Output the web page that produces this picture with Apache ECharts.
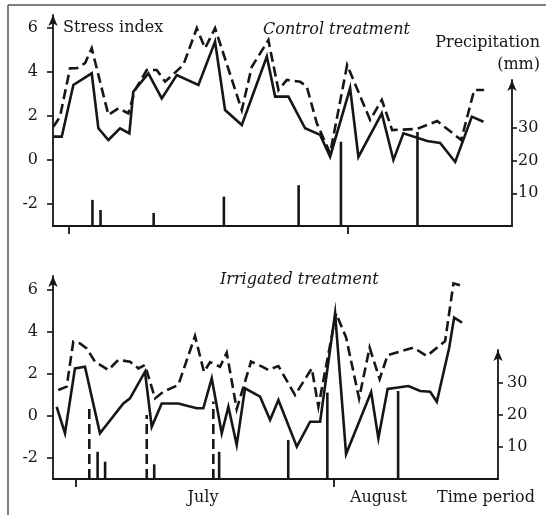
<!DOCTYPE html>
<html>
<head>
<meta charset="utf-8">
<script src="https://cdn.jsdelivr.net/npm/echarts@6/dist/echarts.min.js"></script>
<style>
html,body{margin:0;padding:0;background:#fff;}
#chart{width:546px;height:515px;}
</style>
</head>
<body>
<div id="chart"></div>
<script>
// Days counted from 1 July (day 0); 1 August = day 31
const monthTickDays = [0, 31];
const stressTicks = [-2, 0, 2, 4, 6];
const precipTicks = [10, 20, 30];

// Control treatment – stress index
const ctrlSolidDay = [-1.74,-0.81,0.48,2.52,3.26,4.37,5.67,6.7,7.14,8.81,10.3,11.97,14.37,16.22,17.33,19.19,21.97,22.89,24.37,26.22,27.89,29,31.22,32.14,34.74,36.03,37.14,39.78,41.22,42.89,44.74,46.03];
const ctrlSolidVal = [1.06,1.06,3.41,3.94,1.44,0.91,1.44,1.21,3.1,3.94,2.8,3.86,3.41,5.38,2.27,1.59,4.7,2.88,2.88,1.44,1.14,0.15,3.27,0.14,2.12,0,1.21,0.86,0.77,-0.09,1.97,1.74];
const ctrlDashDay = [-1.74,-1,0.11,0.86,1.78,2.52,4.37,5.48,6.59,7.33,8.63,9.74,10.67,12.7,14.19,15.11,16.22,19.19,20.3,22.14,23.26,24.19,25.67,26.41,27.52,29,30.89,33.44,34.74,35.89,38.63,40.89,43.56,45,46.11];
const ctrlDashVal = [1.51,1.97,4.17,4.17,4.4,5.08,2.05,2.35,2.12,3.18,4.09,4.09,3.56,4.32,5.99,5.08,5.99,2.27,4.24,5.45,3.18,3.64,3.56,3.33,1.67,0.3,4.32,1.82,2.73,1.36,1.41,1.77,0.91,3.18,3.18];

// Irrigated treatment – stress index
const irrSolidDay = [-2.32,-1.32,-0.12,1.08,2.88,5.69,6.49,8.29,9.1,10.3,12.3,14.5,15.3,16.31,17.51,18.31,19.31,20.31,22.12,23.32,24.32,26.53,28.13,29.33,31.13,32.45,35.46,36.33,37.44,39.94,41.35,42.55,43.35,44.83,45.43,46.39];
const irrSolidVal = [0.44,-0.82,2.27,2.35,-0.82,0.6,0.84,2.11,-0.51,0.6,0.6,0.37,0.37,1.8,-0.82,0.44,-1.38,1.32,0.92,-0.19,0.76,-1.46,-0.27,-0.27,4.89,-1.81,1.14,-1.06,1.29,1.43,1.19,1.16,0.68,3.24,4.69,4.45];
const irrDashDay = [-2.13,-1.12,-0.32,0.48,1.29,2.28,3.88,5.08,6.49,7.49,8.29,9.5,10.49,12.3,14.3,15.38,16.11,17.31,18.11,19.31,21.03,22.36,23.11,24.32,26.32,28.33,29.12,31.25,32.45,34.01,35.28,36.48,37.44,39.54,40.54,42.15,44.35,45.35,46.6];
const irrDashVal = [1.24,1.4,3.54,3.46,3.22,2.59,2.19,2.67,2.59,2.27,2.43,0.84,1.16,1.48,3.81,2.1,2.57,2.35,3.02,0.33,2.59,2.35,2.19,2.38,1.0,2.27,0.44,4.89,3.74,0.84,3.26,1.76,2.9,3.14,3.26,2.86,3.57,6.32,6.17];

// Precipitation (mm) and irrigation (mm)
const rainDay = [2.6,3.5,9.4,17.2,25.5,30.2,38.7];
const ctrlRain = [8.0,4.9,4.0,9.0,12.5,25.8,28.8];
const irrRain = [8.5,5.4,4.6,8.5,12.2,27.0,27.5];
const irrigDay = [1.6,8.5,16.5];
const irrigAmt = [22.6,20.0,24.2];

const INK = '#161616';
const FONT = 'DejaVu Serif';
const zip = (a, b) => a.map((v, i) => [v, b[i]]);

function stickSeries(xi, yi, days, vals, dashed) {
  return {
    type: 'custom', xAxisIndex: xi, yAxisIndex: yi, z: 3,
    data: zip(days, vals),
    renderItem: function (params, api) {
      const x = api.value(0), h = api.value(1);
      const p0 = api.coord([x, 0]);
      const p1 = api.coord([x, h]);
      return {
        type: 'line',
        shape: {x1: p0[0], y1: p0[1], x2: p1[0], y2: p1[1]},
        style: {stroke: INK, lineWidth: 2.6, lineDash: dashed ? [10, 5] : null}
      };
    }
  };
}
function lineSeries(xi, yi, days, vals, dashed) {
  return {
    type: 'line', xAxisIndex: xi, yAxisIndex: yi, z: 4,
    data: zip(days, vals), symbol: 'none', smooth: false,
    lineStyle: {color: INK, width: 2.6, type: dashed ? [10, 5] : 'solid', join: 'miter'}
  };
}
function xAx(gi, min, max, show) {
  return {
    type: 'value', gridIndex: gi, min: min, max: max, show: show,
    axisLine: {show: true, onZero: false, lineStyle: {color: INK, width: 1.8}},
    axisTick: {show: true, customValues: monthTickDays, length: 8, lineStyle: {color: INK, width: 1.8}},
    axisLabel: {show: false}, splitLine: {show: false}
  };
}
function stressAx(gi, max) {
  return {
    type: 'value', gridIndex: gi, min: -3, max: max, position: 'left',
    axisLine: {show: true, onZero: false, symbol: ['none', 'arrow'], symbolSize: [7, 11], lineStyle: {color: INK, width: 1.8}},
    axisTick: {show: true, customValues: stressTicks, length: 6, lineStyle: {color: INK, width: 1.6}},
    axisLabel: {show: true, customValues: stressTicks, margin: 15, color: INK, fontFamily: FONT, fontSize: 16},
    splitLine: {show: false}
  };
}
function precipAx(gi, max, margin) {
  return {
    type: 'value', gridIndex: gi, min: 0, max: max, position: 'right',
    axisLine: {show: true, onZero: false, symbol: ['none', 'arrow'], symbolSize: [7, 11], lineStyle: {color: INK, width: 1.8}},
    axisTick: {show: true, customValues: precipTicks, length: 5, lineStyle: {color: INK, width: 1.6}},
    axisLabel: {show: true, customValues: precipTicks, margin: margin, color: INK, fontFamily: FONT, fontSize: 16},
    splitLine: {show: false}
  };
}
function txt(text, x, y, align, italic) {
  return {
    type: 'text', z: 10,
    style: {text: text, x: x, y: y, textAlign: align, textVerticalAlign: 'middle',
      fill: INK, font: (italic ? 'italic ' : '') + '16px "' + FONT + '"'}
  };
}

const chart = echarts.init(document.getElementById('chart'), null, {renderer: 'canvas'});
chart.setOption({
  animation: false,
  backgroundColor: '#fff',
  grid: [
    {left: 53, right: 34, top: 15, bottom: 289},
    {left: 53, right: 34, top: 80, bottom: 289},
    {left: 53, right: 48, top: 276, bottom: 36},
    {left: 53, right: 48, top: 350, bottom: 36}
  ],
  xAxis: [
    xAx(0, -1.78, 49.2, true),
    xAx(1, -1.78, 49.2, false),
    xAx(2, -2.76, 50.7, true),
    xAx(3, -2.76, 50.7, false)
  ],
  yAxis: [
    stressAx(0, 6.59),
    precipAx(1, 44.7, 6),
    stressAx(2, 6.67),
    precipAx(3, 40.3, 9)
  ],
  series: [
    stickSeries(1, 1, rainDay, ctrlRain, false),
    lineSeries(0, 0, ctrlSolidDay, ctrlSolidVal, false),
    lineSeries(0, 0, ctrlDashDay, ctrlDashVal, true),
    stickSeries(3, 3, rainDay, irrRain, false),
    stickSeries(3, 3, irrigDay, irrigAmt, true),
    lineSeries(2, 2, irrSolidDay, irrSolidVal, false),
    lineSeries(2, 2, irrDashDay, irrDashVal, true)
  ],
  graphic: [
    {type: 'line', shape: {x1: 8, y1: 5, x2: 546, y2: 5}, style: {stroke: '#555', lineWidth: 1.5}},
    {type: 'line', shape: {x1: 8, y1: 5, x2: 8, y2: 515}, style: {stroke: '#555', lineWidth: 1.5}},
    txt('Stress index', 63, 28, 'left', false),
    txt('Control treatment', 263, 30, 'left', true),
    txt('Precipitation', 540, 43, 'right', false),
    txt('(mm)', 540, 65, 'right', false),
    txt('Irrigated treatment', 220, 280, 'left', true),
    txt('July', 203, 498, 'center', false),
    txt('August', 350, 498, 'left', false),
    txt('Time period', 437, 498, 'left', false)
  ]
});
</script>
</body>
</html>
